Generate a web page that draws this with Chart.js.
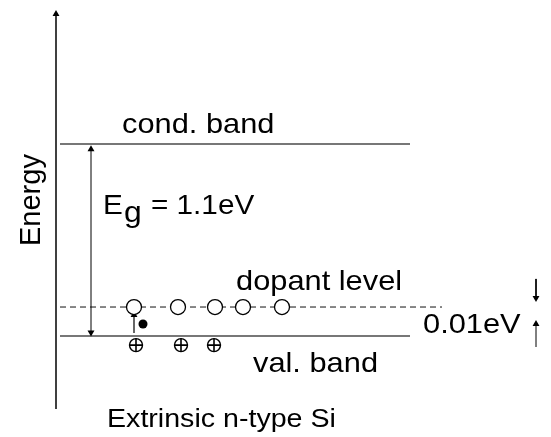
<!DOCTYPE html>
<html>
<head>
<meta charset="utf-8">
<script src="https://cdn.jsdelivr.net/npm/chart.js@4.4.0/dist/chart.umd.min.js"></script>
<style>
  html, body { margin: 0; padding: 0; background: #fff; }
  #wrap { width: 551px; height: 437px; position: relative; }
</style>
</head>
<body>
<div id="wrap"><canvas id="c"></canvas></div>
<script>
// 에너지 준위 (eV, 가전자대 = 0 기준) - 그림 비율 그대로
const condBandE = 1.1;
const valBandE = 0;
const dopantE = 0.166;
const bandStartX = 60, bandEndX = 410, dopantEndX = 442;

// 도펀트 준위 위의 빈 원, 가전자대 아래 정공(+)
const dopantSiteX = [134, 178, 215, 243, 282];
const holeX = [136, 181, 214];
const holeE = -0.052;
// 여기된 전자 (채워진 점)
const electronX = [143];
const electronE = [0.069];

// 화살표 (x, 시작 E, 끝 E)
const energyAxis = { x: 56, from: -0.418, to: 1.845 };
const gapArrow = { x: 91, from: 0.02, to: 1.07 };
const exciteArrow = { x: 134, from: 0.017, to: 0.12 };
const downArrow = { x: 536, from: 0.327, to: 0.218 };
const upArrow = { x: 536, from: -0.063, to: 0.069 };

// 텍스트
const labelText = ['cond. band', 'dopant level', 'val. band', '0.01eV', 'Extrinsic n-type Si'];
const labelX = [122, 236, 253, 423, 107];
const labelE = [1.165, 0.2635, -0.208, 0.019, -0.52];
const labelSize = [28, 28, 28, 28, 26];

const FONT = '"Liberation Sans", Arial, Helvetica, sans-serif';
const INK = '#000';
const BAND = '#777';

function arrowSet(a, heads, width) {
  // heads: 'end' | 'both'
  const up = a.to > a.from;
  return {
    data: [{ x: a.x, y: a.from }, { x: a.x, y: a.to }],
    showLine: true,
    borderColor: INK,
    borderWidth: width,
    pointStyle: 'triangle',
    pointRadius: [heads === 'both' ? 4 : 0, 4],
    pointRotation: [up ? 180 : 0, up ? 0 : 180],
    pointBackgroundColor: INK,
    pointBorderColor: INK,
    pointBorderWidth: 0,
    clip: false
  };
}

function lineSet(x0, x1, e, color, width, dash) {
  return {
    data: [{ x: x0, y: e }, { x: x1, y: e }],
    showLine: true,
    borderColor: color,
    borderWidth: width,
    borderDash: dash || [],
    pointRadius: 0,
    clip: false
  };
}

// 텍스트 그리기 플러그인
const textPlugin = {
  id: 'diagramText',
  afterDatasetsDraw(chart) {
    const ctx = chart.ctx;
    const xs = chart.scales.x, ys = chart.scales.y;
    ctx.save();
    ctx.fillStyle = INK;
    ctx.textBaseline = 'alphabetic';
    labelText.forEach((t, i) => {
      ctx.save();
      ctx.translate(xs.getPixelForValue(labelX[i]), ys.getPixelForValue(labelE[i]));
      ctx.scale(1.1, 1);
      ctx.font = labelSize[i] + 'px ' + FONT;
      ctx.textAlign = 'left';
      ctx.fillText(t, 0, 0);
      ctx.restore();
    });

    // E_g = 1.1eV
    ctx.save();
    ctx.translate(xs.getPixelForValue(103), ys.getPixelForValue(0.699));
    ctx.scale(1.1, 1);
    ctx.font = '27px ' + FONT;
    ctx.fillText('E', 0, 0);
    const wE = ctx.measureText('E').width;
    ctx.font = '29px ' + FONT;
    ctx.fillText('g', wE + 1, 8);
    const wg = ctx.measureText('g').width;
    ctx.font = '27px ' + FONT;
    ctx.fillText(' = 1.1eV', wE + wg + 2, 0);
    ctx.restore();

    // Energy (세로)
    ctx.save();
    ctx.translate(40, ys.getPixelForValue(0.779));
    ctx.rotate(-Math.PI / 2);
    ctx.font = '29px ' + FONT;
    ctx.textAlign = 'center';
    ctx.fillText('Energy', 0, 0);
    ctx.restore();
    ctx.restore();
  }
};

// 그리는 순서대로 작성 (Chart.js는 index 0을 맨 위에 그리므로 뒤집음)
const datasets = [
  lineSet(bandStartX, bandEndX, condBandE, BAND, 2),
  lineSet(bandStartX, bandEndX, valBandE, BAND, 2),
  lineSet(bandStartX, dopantEndX, dopantE, '#111', 1, [6, 4]),
  arrowSet(energyAxis, 'end', 1.5),
  arrowSet(gapArrow, 'both', 1),
  arrowSet(exciteArrow, 'end', 1.2),
  arrowSet(downArrow, 'end', 1),
  arrowSet(upArrow, 'end', 1),
  {
    data: dopantSiteX.map(x => ({ x, y: dopantE })),
    pointStyle: 'circle', pointRadius: 7.5,
    pointBackgroundColor: '#fff', pointBorderColor: INK, pointBorderWidth: 1.3,
    clip: false
  },
  {
    data: electronX.map((x, i) => ({ x, y: electronE[i] })),
    pointStyle: 'circle', pointRadius: 4.5,
    pointBackgroundColor: INK, pointBorderColor: INK, pointBorderWidth: 0,
    clip: false
  },
  {
    data: holeX.map(x => ({ x, y: holeE })),
    pointStyle: 'circle', pointRadius: 6.5,
    pointBackgroundColor: '#fff', pointBorderColor: INK, pointBorderWidth: 1.4,
    clip: false
  },
  {
    data: holeX.map(x => ({ x, y: holeE })),
    pointStyle: 'cross', pointRadius: 6.5,
    pointBorderColor: INK, pointBorderWidth: 1.6,
    clip: false
  }
].reverse();

new Chart(document.getElementById('c'), {
  type: 'scatter',
  data: { datasets },
  options: {
    responsive: true,
    maintainAspectRatio: false,
    animation: false,
    layout: { padding: 0, autoPadding: false },
    plugins: { legend: { display: false }, tooltip: { enabled: false } },
    scales: {
      x: { type: 'linear', min: 0, max: 551, display: false },
      y: { type: 'linear', min: -0.5786, max: 1.925, display: false }
    }
  },
  plugins: [textPlugin]
});
</script>
</body>
</html>
